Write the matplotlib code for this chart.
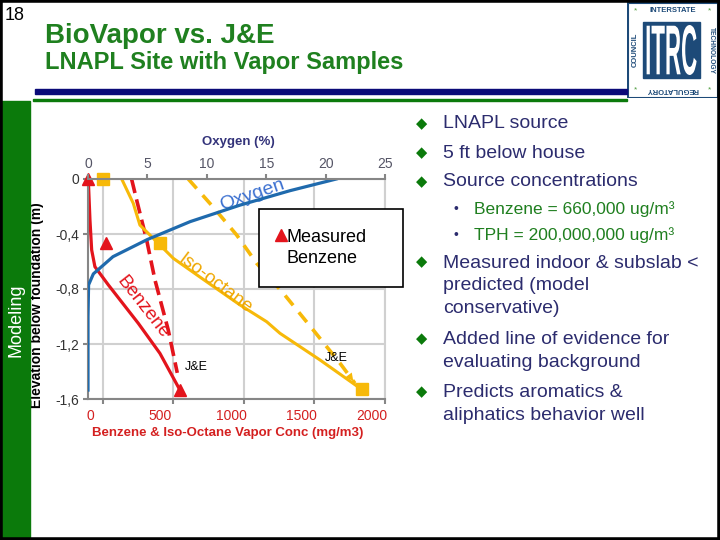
import matplotlib.pyplot as plt
from matplotlib.lines import Line2D
from matplotlib.patches import Rectangle, PathPatch
from matplotlib.textpath import TextPath
from matplotlib.font_manager import FontProperties
from matplotlib.transforms import Affine2D, ScaledTranslation

plt.rcParams['font.family'] = ['Liberation Sans', 'DejaVu Sans']

# --- data ---
# oxygen profile (top axis, %)
oxy_elev = [0, -0.085, -0.19, -0.31, -0.44, -0.565, -0.69, -0.77, -1.0, -1.535]
oxy_pct = [20.9, 17.0, 12.8, 8.6, 5.0, 2.1, 0.45, 0.05, 0.0, 0.0]

# benzene, BioVapor model (mg/m3)
benz_elev = [0, -0.30, -0.516, -0.638, -0.77, -1.05, -1.268, -1.535]
benz_conc = [-104, -92, -80, -57, 38, 251, 404, 546]

# benzene, J&E model
benz_je_elev = [0, -0.153, -0.444, -0.735, -1.098, -1.41]
benz_je_conc = [203, 239, 310, 369, 463, 527]

# iso-octane, BioVapor model
iso_elev = [0, -0.177, -0.335, -0.48, -0.577, -0.747, -0.916, -1.038, -1.122, -1.316, -1.522]
iso_conc = [133, 215, 262, 404, 499, 735, 972, 1161, 1255, 1539, 1823]

# iso-octane, J&E model
iso_je_elev = [0, -0.2, -0.407, -0.613, -0.831, -1.098, -1.34, -1.486]
iso_je_conc = [605, 778, 948, 1090, 1279, 1491, 1681, 1787]

# measured points
meas_benz_elev = [0, -0.465, -1.535]
meas_benz_conc = [-104, 21, 546]
meas_iso_elev = [0, -0.468, -1.53]
meas_iso_conc = [0, 404, 1835]

conc_ticks = [0, 500, 1000, 1500, 2000]
oxy_ticks = [0, 5, 10, 15, 20, 25]
elev_ticks = [0, -0.4, -0.8, -1.2, -1.6]
elev_labels = ['0', '-0,4', '-0,8', '-1,2', '-1,6']

bullets = [
    ('LNAPL source', 124),
    ('5 ft below house', 153),
    ('Source concentrations', 182),
    ('Measured indoor & subslab <\npredicted (model\nconservative)', 286),
    ('Added line of evidence for\nevaluating background', 351),
    ('Predicts aromatics &\naliphatics behavior well', 404),
]
sub_bullets = [('Benzene = 660,000 ug/m³', 209), ('TPH = 200,000,000 ug/m³', 235)]

RED = '#e3141c'
ORANGE = '#f7b909'
BLUE = '#1f6aad'
GREEN = '#0b7a0b'
NAVY_TXT = '#2c2c6e'
LOGO = '#1d4a78'

W, H = 720, 540
def fx(x):
    return x / W
def fy(y):
    return 1 - y / H

fig = plt.figure(figsize=(7.2, 5.4), dpi=100)

# --- slide decoration ---
fig.patches.append(Rectangle((0, fy(540)), fx(30), fy(101) - fy(540), transform=fig.transFigure,
                             color=GREEN, zorder=0))
fig.patches.append(Rectangle((fx(35), fy(94)), fx(627) - fx(35), fy(89) - fy(94), transform=fig.transFigure,
                             color='#0a0a78', zorder=0))
fig.patches.append(Rectangle((fx(33), fy(101)), fx(627) - fx(33), fy(99) - fy(101), transform=fig.transFigure,
                             color=GREEN, zorder=0))
fig.patches.append(Rectangle((0, 0), 1, 1, transform=fig.transFigure, fill=False,
                             edgecolor='black', lw=4, zorder=10))

fig.text(fx(5), fy(16), '18', fontsize=13, va='center', ha='left')
fig.text(fx(45), fy(36), 'BioVapor vs. J&E', fontsize=20, weight='bold', color='#1f801f', va='center')
fig.text(fx(45), fy(63), 'LNAPL Site with Vapor Samples', fontsize=17, weight='bold', color='#1f801f',
         va='center')
fig.text(fx(16), fy(320), 'Modeling', fontsize=13, color='white', rotation=90, ha='center', va='center')

# --- logo ---
lg = fig.add_axes([fx(627), fy(98), 91 / W, 96 / H])
lg.set_xlim(0, 91)
lg.set_ylim(0, 96)
lg.axis('off')
lg.add_patch(Rectangle((0.5, 0.5), 90, 95, facecolor='white', edgecolor=LOGO, lw=1.5))
lg.add_patch(Rectangle((16.3, 19.7), 56.7, 56.6, color=LOGO))
tp = TextPath((0, 0), 'ITRC', size=10, prop=FontProperties(family='Liberation Sans', weight='bold'))
ext = tp.get_extents()
sx = 50 / ext.width
sy = 50 / ext.height
tr = Affine2D().translate(-ext.x0, -ext.y0).scale(sx, sy).translate(19.6, 23)
lg.add_patch(PathPatch(tr.transform_path(tp), color='white', lw=0))
lg.text(45.5, 87, 'INTERSTATE', fontsize=5.5, weight='bold', color=LOGO, ha='center', va='center')
lg.text(45.5, 8.5, 'REGULATORY', fontsize=5.5, weight='bold', color=LOGO, ha='center', va='center',
        rotation=180)
lg.text(8, 48, 'COUNCIL', fontsize=5.5, weight='bold', color=LOGO, ha='center', va='center', rotation=90)
lg.text(84, 48, 'TECHNOLOGY', fontsize=4.8, weight='bold', color=LOGO, ha='center', va='center',
        rotation=270)
for sx_, sy_ in [(8, 87), (83, 87), (8, 8.5), (83, 8.5)]:
    lg.text(sx_, sy_, '*', fontsize=6, color='#4a9a3a', ha='center', va='center')

# --- chart ---
ax = fig.add_axes([fx(88), fy(399), (385 - 88) / W, (399 - 179) / H])
ax.set_xlim(-106, 2000)
ax.set_ylim(-1.6, 0)
ax.set_xticks(conc_ticks)
ax.set_yticks(elev_ticks)
ax.set_yticklabels(elev_labels)
ax.grid(True, color='#d0d0d0', lw=1.5)
ax.set_axisbelow(True)
for s in ['left', 'bottom']:
    ax.spines[s].set_color('#868686')
    ax.spines[s].set_linewidth(1.5)
ax.spines['top'].set_visible(False)
ax.spines['right'].set_color('#d0d0d0')
ax.spines['right'].set_linewidth(1.5)
ax.tick_params(axis='x', length=3.5, width=1.5, color='#868686', labelcolor='#d42020', labelsize=10, pad=4)
ax.tick_params(axis='y', length=3.5, width=1.5, color='#868686', labelcolor='#333333', labelsize=10, pad=3)
shift = ScaledTranslation(-0.13, 0, fig.dpi_scale_trans)
for lab in ax.get_xticklabels():
    lab.set_transform(lab.get_transform() + shift)

ax.set_xlabel('Benzene & Iso-Octane Vapor Conc (mg/m3)', fontsize=9.5, weight='bold', color='#d42020')
ax.xaxis.set_label_coords(0.47, -0.155)
ax.xaxis.label.set_va('center')
ax.set_ylabel('Elevation below foundation (m)', fontsize=10, weight='bold', color='black')
ax.yaxis.set_label_coords(-0.172, 0.427)
ax.yaxis.label.set_va('center')

ax.plot(benz_conc, benz_elev, color=RED, lw=2.3)
ax.plot(benz_je_conc, benz_je_elev, color=RED, lw=2.6, dashes=(4, 1.8))
ax.plot(iso_conc, iso_elev, color=ORANGE, lw=2.2)
ax.plot(iso_je_conc, iso_je_elev, color=ORANGE, lw=2.6, dashes=(3.5, 2.5))
ax.annotate('', xy=(iso_je_conc[-1], iso_je_elev[-1]), xytext=(iso_je_conc[-2], iso_je_elev[-2]),
            arrowprops=dict(arrowstyle='-|>', color=ORANGE, lw=0, mutation_scale=14))
ax.plot(meas_iso_conc, meas_iso_elev, 's', color=ORANGE, markersize=8, clip_on=False, zorder=5)
meas, = ax.plot(meas_benz_conc, meas_benz_elev, '^', color=RED, markersize=8, clip_on=False, zorder=5)

ax.text(1059, -0.116, 'Oxygen', color='#3a6fd0', fontsize=14, rotation=19, ha='center', va='center',
        rotation_mode='anchor')
ax.text(797, -0.759, 'Iso-octane', color='#efa700', fontsize=13.5, rotation=-37, ha='center', va='center',
        rotation_mode='anchor')
ax.text(285, -0.936, 'Benzene', color=RED, fontsize=13.5, rotation=-52, ha='center', va='center',
        rotation_mode='anchor')
ax.text(580, -1.37, 'J&E', fontsize=9, va='center', ha='left')
ax.text(1574, -1.304, 'J&E', fontsize=9, va='center', ha='left')

# oxygen on the top axis
ax2 = ax.twiny()
ax2.set_xlim(0, 25)
ax2.set_xticks(oxy_ticks)
for s in ['left', 'bottom', 'right']:
    ax2.spines[s].set_visible(False)
ax2.spines['top'].set_color('#868686')
ax2.spines['top'].set_linewidth(1.5)
ax2.tick_params(axis='x', length=3.5, width=1.5, color='#868686', labelcolor='#555566', labelsize=10, pad=2.5)
ax2.plot(oxy_pct, oxy_elev, color=BLUE, lw=2.3)
ax2.set_xlabel('Oxygen (%)', fontsize=9.5, weight='bold', color='#33337a')
ax2.xaxis.set_label_coords(0.505, 1.168)
ax2.xaxis.label.set_va('center')

blank = Line2D([], [], ls='none')
leg = ax2.legend([meas, blank], ['Measured', 'Benzene'], loc='upper left',
                 bbox_to_anchor=((259 - 88) / 297, (399 - 286) / 220, (403 - 259) / 297, 0.35),
                 mode='expand', borderaxespad=0, frameon=True, fancybox=False, edgecolor='black',
                 framealpha=1, fontsize=13, borderpad=1.08, handlelength=0.3, handletextpad=0.15,
                 labelspacing=0.25, numpoints=1)
leg.get_frame().set_linewidth(1.2)
leg.set_zorder(20)

# --- bullet text ---
for txt, y in bullets:
    fig.text(fx(443), fy(y), txt, fontsize=14, color=NAVY_TXT, va='center', ha='left', linespacing=1.45)
    first_y = y - (txt.count('\n')) * 12
    fig.text(fx(422), fy(first_y), '◆', fontsize=10.5, color=GREEN, va='center', ha='center',
             family=['DejaVu Sans'])
for txt, y in sub_bullets:
    fig.text(fx(474), fy(y), txt, fontsize=12.5, color='#1f7f1f', va='center', ha='left')
    fig.text(fx(456), fy(y), '•', fontsize=10, color=NAVY_TXT, va='center', ha='center')

fig.savefig('out.png', dpi=100)
